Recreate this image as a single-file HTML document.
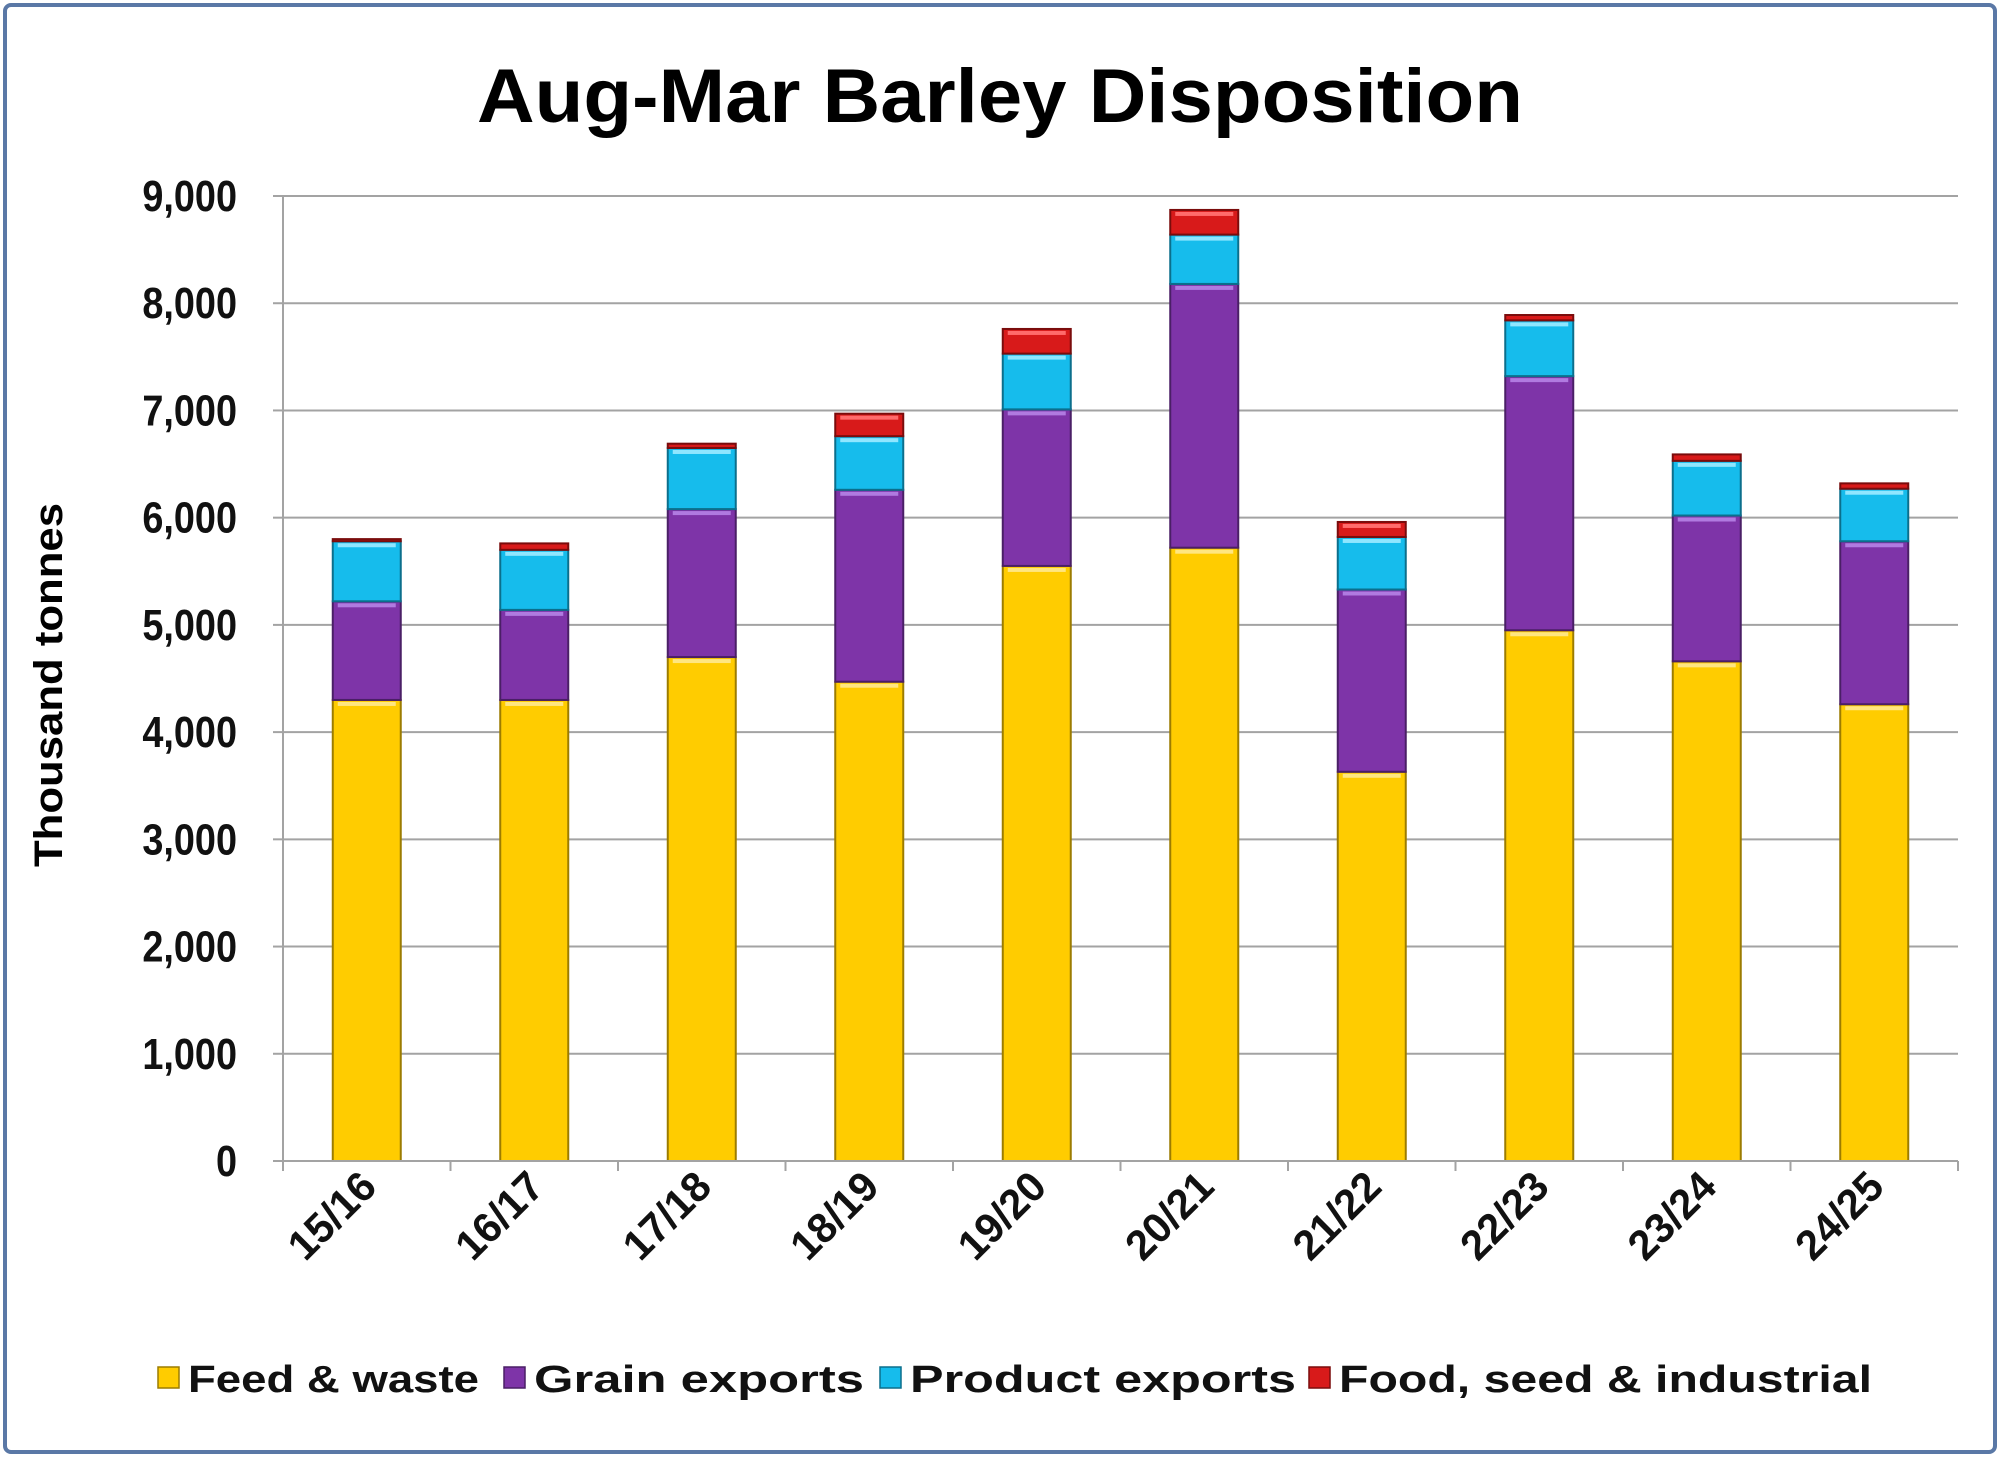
<!DOCTYPE html>
<html><head><meta charset="utf-8"><style>
html,body{margin:0;padding:0;background:#fff;}
svg{display:block;font-family:"Liberation Sans",sans-serif;font-weight:bold;}
</style></head><body>
<svg id="chart" width="2000" height="1457" viewBox="0 0 2000 1457">
<rect x="5" y="5" width="1990" height="1447" rx="6" fill="#fff" stroke="#5a78a6" stroke-width="4"/>
<text x="1000" y="122" text-anchor="middle" font-size="76" textLength="1046" lengthAdjust="spacingAndGlyphs" fill="#000">Aug-Mar Barley Disposition</text>
<text transform="translate(62,685) rotate(-90)" text-anchor="middle" font-size="40" textLength="364" lengthAdjust="spacingAndGlyphs" fill="#000">Thousand tonnes</text>
<g id="grid"></g><g id="bars"></g><g id="axes"></g>
<g id="legend"></g>
</svg>
<script>
const categories=["15/16","16/17","17/18","18/19","19/20","20/21","21/22","22/23","23/24","24/25"];
const feedWaste=[4300,4300,4700,4470,5550,5720,3630,4950,4660,4260];
const grainExports=[920,840,1380,1790,1460,2460,1700,2370,1360,1520];
const productExports=[560,560,570,500,520,460,490,520,510,490];
const foodSeedIndustrial=[20,60,40,210,230,230,140,50,60,50];
const yTicks=[0,1000,2000,3000,4000,5000,6000,7000,8000,9000];
const tickLabels=["0","1,000","2,000","3,000","4,000","5,000","6,000","7,000","8,000","9,000"];
const seriesNames=["Feed & waste","Grain exports","Product exports","Food, seed & industrial"];

const NS="http://www.w3.org/2000/svg";
const X0=283,X1=1958,Y0=1161,Y9=196;
const yScale=v=>Y0-(v/9000)*(Y0-Y9);
const band=(X1-X0)/categories.length;
const xCenter=i=>X0+band*(i+0.5);
const barW=68;
const colors=["#FFCC00","#7E34A8","#16BCEC","#D81A1A"];
const edges=["#9c7c00","#4a1f66","#0b6f8c","#7a0c0c"];
const hilite=["#ffe680","#b07ae0","#8fe6ff","#ff6b6b"];
function mk(t,a,p){const e=document.createElementNS(NS,t);for(const k in a)e.setAttribute(k,a[k]);(p||document.getElementById('chart')).appendChild(e);return e;}

const grid=document.getElementById('grid'),axes=document.getElementById('axes'),bars=document.getElementById('bars'),legend=document.getElementById('legend');
yTicks.forEach((v,i)=>{
  if(v>0){const g=mk('line',{x1:X0,x2:X1,y1:yScale(v),y2:yScale(v),stroke:'#a3a3a3','stroke-width':2},grid);
  
  }
  const tk=mk('line',{x1:X0-10,x2:X0,y1:yScale(v),y2:yScale(v),stroke:'#a3a3a3','stroke-width':2},axes);
  
  
  const t=mk('text',{transform:`translate(${X0-46},${yScale(v)+15}) scale(0.86,1)`,'text-anchor':'end','font-size':44,fill:'#111'},axes);
  t.textContent=tickLabels[i];
  
  
});
const ya=mk('line',{x1:X0,x2:X0,y1:Y9,y2:Y0,stroke:'#a3a3a3','stroke-width':2},axes);


const xa=mk('line',{x1:X0,x2:X1,y1:Y0,y2:Y0,stroke:'#a3a3a3','stroke-width':2},axes);


for(let i=0;i<=categories.length;i++){const l=mk('line',{x1:X0+band*i,x2:X0+band*i,y1:Y0,y2:Y0+10,stroke:'#a3a3a3','stroke-width':2},axes);

}

const series=[feedWaste,grainExports,productExports,foodSeedIndustrial];
const keys=['feed','grain','product','food'];
categories.forEach((c,i)=>{
  let base=0;
  series.forEach((s,k)=>{
    const v=s[i],y1=yScale(base),y2=yScale(base+v);
    const r=mk('rect',{x:xCenter(i)-barW/2,y:y2,width:barW,height:Math.max(y1-y2,0.5),fill:colors[k],stroke:edges[k],'stroke-width':2},bars);
    
    
    if(y1-y2>10){const h=mk('rect',{x:xCenter(i)-barW/2+5,y:y2+2,width:barW-10,height:4,fill:hilite[k]},bars);
    
    }
    base+=v;
  });
  const t=mk('text',{transform:`translate(${xCenter(i)+12},${Y0+28}) rotate(-45)`,'text-anchor':'end','font-size':42,textLength:104,lengthAdjust:'spacingAndGlyphs',fill:'#111'},axes);
  t.textContent=c;
  
  
});

const lx=[158,504,880,1309];
const lw=[291,330,386,533];
seriesNames.forEach((n,k)=>{
  const r=mk('rect',{x:lx[k],y:1367,width:21,height:21,fill:colors[k],stroke:edges[k],'stroke-width':1.5},legend);
  
  
  const t=mk('text',{x:lx[k]+30,y:1392,'font-size':38,textLength:lw[k],lengthAdjust:'spacingAndGlyphs',fill:'#111'},legend);
  t.textContent=n;
  
  
});
</script>
</body></html>
